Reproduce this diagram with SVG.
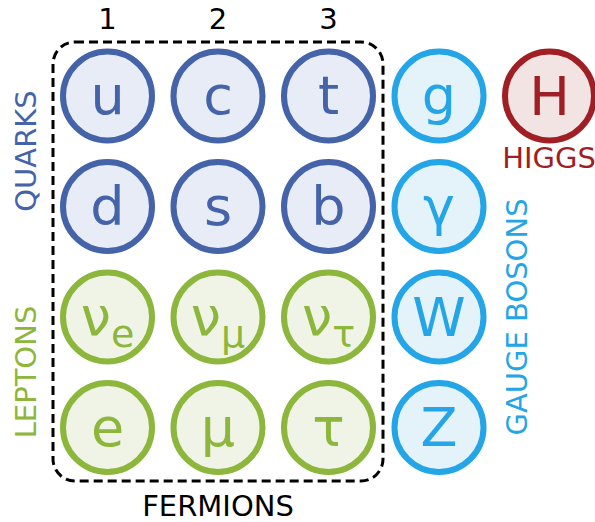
<svg xmlns="http://www.w3.org/2000/svg" width="595" height="522" viewBox="0 0 595 522">
<style>
text{font-family:"DejaVu Sans","Liberation Sans",sans-serif;text-anchor:middle}
.p{stroke-width:6}
.q circle{fill:#e8ecf6;stroke:#4563a9}
.q text{fill:#4563a9}
.l circle{fill:#f0f4e6;stroke:#8db63c}
.l text{fill:#8db63c}
.g circle{fill:#e4f2fa;stroke:#23a5e8}
.g text{fill:#23a5e8}
.h circle{fill:#f3e4e4;stroke:#a01f24}
.h text{fill:#a01f24}
.sym{font-size:54px}
.sub{font-size:38px}
.lab{font-size:29px}
</style>
<rect x="53" y="42" width="330" height="439" rx="22" fill="none" stroke="#000" stroke-width="3" stroke-dasharray="9 5"/>
<g id="gen-labels" class="lab" fill="#000">
<text x="107.5" y="29" class="lab">1</text>
<text x="218" y="29" class="lab">2</text>
<text x="328.5" y="29" class="lab">3</text>
<text x="218" y="516" class="lab">FERMIONS</text>
</g>
<g id="u" class="q"><circle class="p" cx="107.5" cy="96" r="44.5"/><text class="sym" x="107.5" y="114">u</text></g>
<g id="c" class="q"><circle class="p" cx="218" cy="96" r="44.5"/><text class="sym" x="218" y="114">c</text></g>
<g id="t" class="q"><circle class="p" cx="328.5" cy="96" r="44.5"/><text class="sym" x="328.5" y="114">t</text></g>
<g id="d" class="q"><circle class="p" cx="107.5" cy="206.5" r="44.5"/><text class="sym" x="107.5" y="225">d</text></g>
<g id="s" class="q"><circle class="p" cx="218" cy="206.5" r="44.5"/><text class="sym" x="218" y="225">s</text></g>
<g id="b" class="q"><circle class="p" cx="328.5" cy="206.5" r="44.5"/><text class="sym" x="328.5" y="225">b</text></g>
<g id="nue" class="l"><circle class="p" cx="107.5" cy="317" r="44.5"/><text class="sym" x="107.5" y="335">ν<tspan class="sub" dy="12">e</tspan></text></g>
<g id="numu" class="l"><circle class="p" cx="218" cy="317" r="44.5"/><text class="sym" x="218" y="335">ν<tspan class="sub" dy="12">μ</tspan></text></g>
<g id="nutau" class="l"><circle class="p" cx="328.5" cy="317" r="44.5"/><text class="sym" x="328.5" y="335">ν<tspan class="sub" dy="12">τ</tspan></text></g>
<g id="e" class="l"><circle class="p" cx="107.5" cy="427.5" r="44.5"/><text class="sym" x="107.5" y="446">e</text></g>
<g id="mu" class="l"><circle class="p" cx="218" cy="427.5" r="44.5"/><text class="sym" x="218" y="446">μ</text></g>
<g id="tau" class="l"><circle class="p" cx="328.5" cy="427.5" r="44.5"/><text class="sym" x="328.5" y="446">τ</text></g>
<g id="g" class="g"><circle class="p" cx="439" cy="96" r="44.5"/><text class="sym" x="439" y="114">g</text></g>
<g id="gamma" class="g"><circle class="p" cx="439" cy="206.5" r="44.5"/><text class="sym" x="439" y="225">γ</text></g>
<g id="W" class="g"><circle class="p" cx="439" cy="317" r="44.5"/><text class="sym" x="439" y="336">W</text></g>
<g id="Z" class="g"><circle class="p" cx="439" cy="427.5" r="44.5"/><text class="sym" x="439" y="446">Z</text></g>
<g id="H" class="h"><circle class="p" cx="549.5" cy="96" r="44.5"/><text class="sym" x="549.5" y="115">H</text><text class="lab" x="549" y="168">HIGGS</text></g>
<g id="quarks-label" class="q"><text class="lab" transform="translate(36,151) rotate(-90)">QUARKS</text></g>
<g id="leptons-label" class="l"><text class="lab" transform="translate(36,372) rotate(-90)">LEPTONS</text></g>
<g id="gauge-label" class="g"><text class="lab" transform="translate(527,317) rotate(-90)">GAUGE BOSONS</text></g>
</svg>
